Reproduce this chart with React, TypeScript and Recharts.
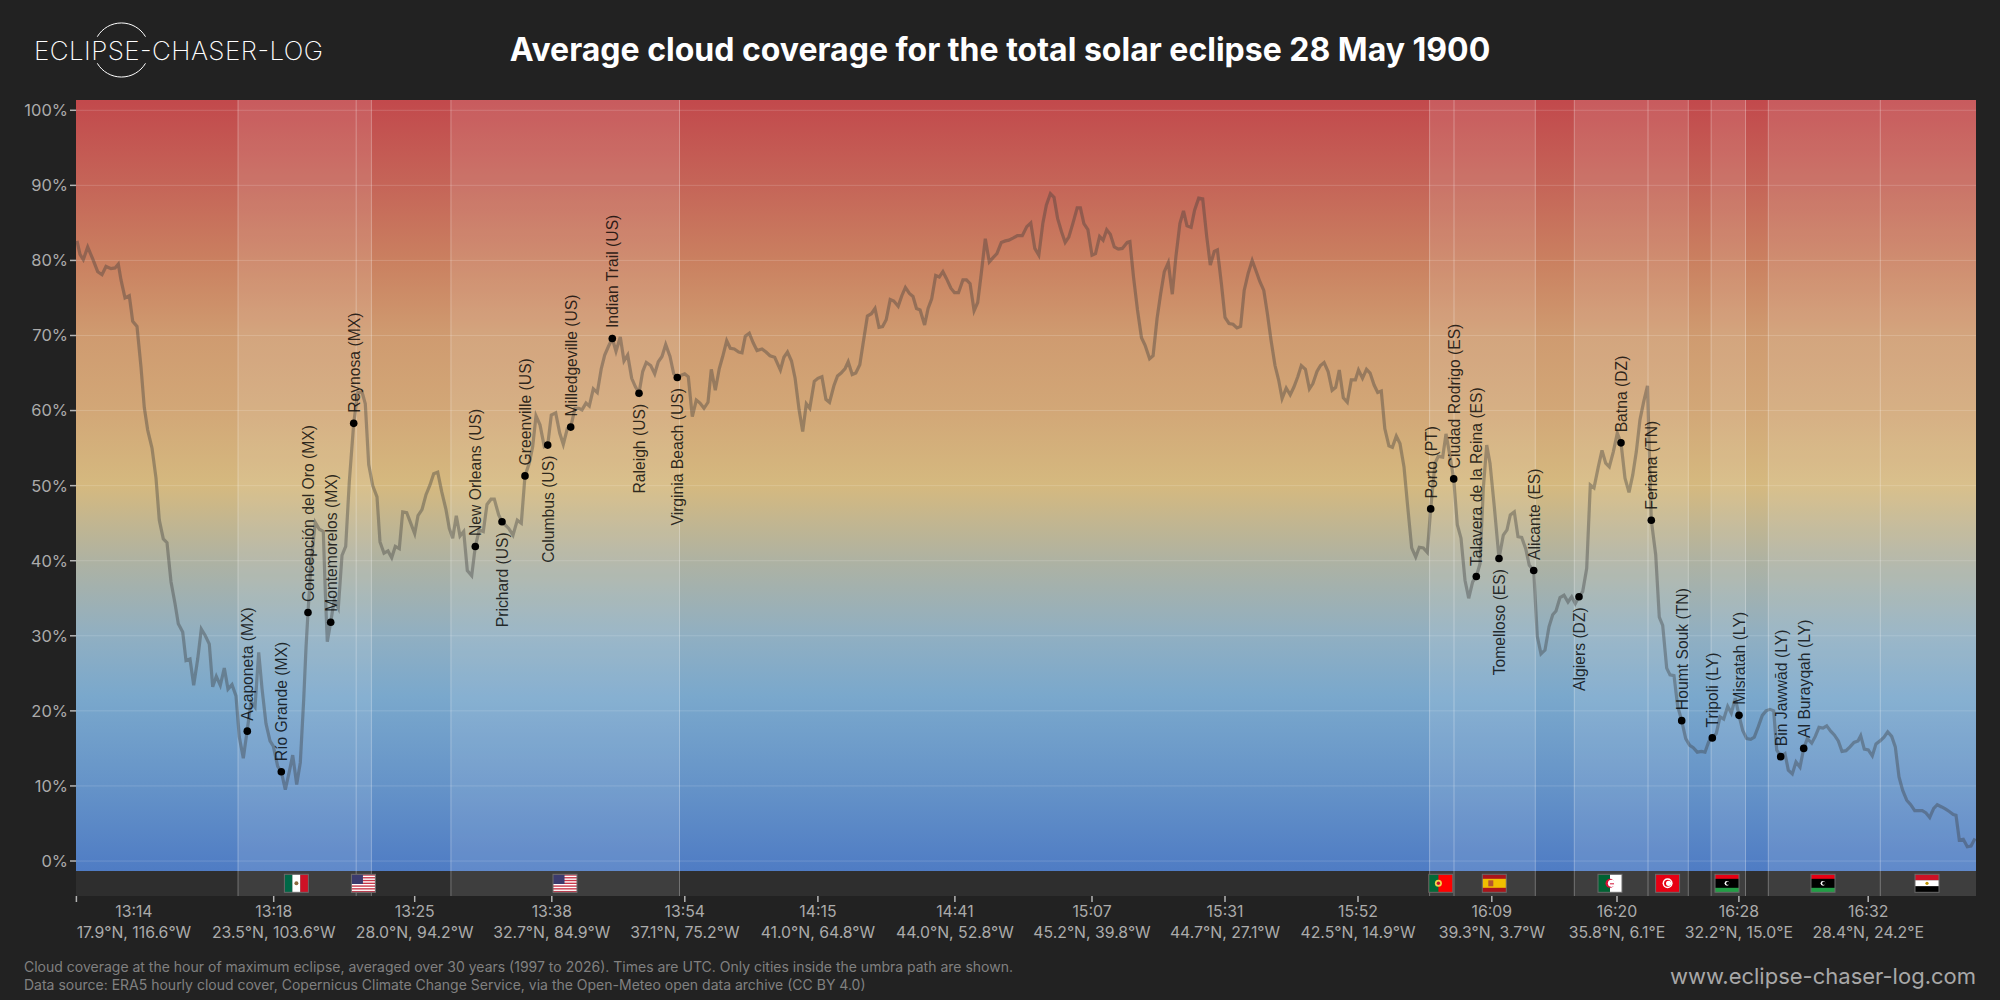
import {
	ComposedChart,
	Line,
	ReferenceArea,
	ReferenceLine,
	Scatter,
	XAxis,
	YAxis,
} from "recharts";

// distance along the eclipse track and the cloud cover read at that spot
const trackPos = [
	1, 4, 7.3, 11.7, 16.7, 21.7, 26, 30, 35, 39, 42.3, 45, 49, 53.3, 56.7, 61, 65, 68.3, 71.7, 76, 80, 83.3, 87.3, 91,
	95, 99, 102.3, 106.7, 110, 114, 117.7, 121.7, 125.3, 129.3, 133.3, 136.7, 140.3, 144.3, 148.3, 152, 156, 160,
	163.3, 167.3, 171.3, 175, 179, 182.7, 186, 190, 194, 197.3, 201.7, 205.3, 209.3, 213.3, 216.7, 220.7, 224.3,
	227.7, 230, 232, 235, 239.3, 243.3, 247.3, 249.3, 251.3, 254.7, 258.3, 262.3, 266, 269.7, 273.3, 277.7, 281.7,
	286, 289.3, 292.7, 296.7, 301, 304, 308, 312, 315.7, 319.3, 323.3, 326.7, 330.7, 334.7, 338.7, 342, 346, 350, 354,
	357.7, 361.7, 365.7, 370, 373.3, 376.7, 380.3, 384, 387.7, 391.3, 395.7, 399.3, 403.3, 407.3, 411, 415, 418.3,
	422.7, 426, 432.7, 437, 441.3, 445.3, 449, 453.3, 456.7, 460, 464, 468.3, 471.7, 475.3, 479.7, 483.7, 487.3,
	491.3, 494.7, 499, 502.7, 506, 510, 513.3, 517.3, 521.3, 525.3, 528.7, 532.3, 536.3, 540, 544.3, 548, 551.7,
	555.7, 559.3, 563, 566.7, 570.3, 574.7, 578.7, 582.3, 586, 589.7, 594, 597.7, 601.3, 605.3, 608.7, 612.3, 616.3,
	620.3, 624, 628, 632, 635.3, 639.3, 643.3, 646.7, 650.7, 654.3, 658.3, 662.7, 666, 669.3, 673.3, 677.3, 681, 686,
	690, 694, 698.7, 704.4, 707.9, 711.5, 715.5, 719.1, 723.1, 726.7, 730.3, 733.8, 738.3, 741.9, 745.9, 749.9, 753.5,
	757.9, 761.5, 765.1, 769.1, 772.2, 776.2, 779.8, 783.8, 787.4, 791.4, 795.4, 799, 803, 806.6, 810.2, 814.2, 817.8,
	822.2, 825.8, 829.4, 833.4, 837, 840.5, 844.1, 848.6, 852.1, 855.7, 859.7, 863.3, 866.9, 870.4, 874.9, 878.5,
	882.5, 886.9, 890.5, 894.1, 898.1, 901.7, 905.3, 909.3, 913.3, 917.3, 920.9, 925.3, 929.4, 932.9, 937.4, 941.4,
	946.3, 950.8, 954.8, 958.8, 962.8, 966.9, 970.4, 974.4, 978, 981.6, 985.6, 989.2, 992.8, 996.8, 1001.2, 1004.4,
	1007.9, 1011.9, 1016, 1019.5, 1023.6, 1027.1, 1030.7, 1034.3, 1038.3, 1042.3, 1046.3, 1051.2, 1053.9, 1057.5,
	1061.5, 1065.5, 1069.1, 1073.6, 1077.1, 1081.1, 1084.7, 1088.3, 1092.3, 1096.3, 1099.9, 1103.9, 1107.5, 1111,
	1115.1, 1118.6, 1122.7, 1126.7, 1130.7, 1134.3, 1138.3, 1141.4, 1145.4, 1149, 1153, 1157, 1161, 1164.6, 1168.2,
	1172.2, 1176.2, 1179.8, 1183.8, 1187.8, 1191.4, 1195, 1199, 1202.6, 1206.1, 1210.2, 1214.2, 1217.8, 1221.8,
	1225.3, 1229.4, 1233.4, 1236.9, 1241, 1244.5, 1248.1, 1252.1, 1256.1, 1259.7, 1263.3, 1267.3, 1271.3, 1275.3,
	1279.4, 1282.5, 1286.5, 1290.5, 1294.1, 1298.1, 1301.7, 1305.3, 1308.8, 1312.9, 1316.4, 1320.3, 1324, 1328,
	1331.7, 1335.7, 1339.7, 1343.3, 1347.3, 1351.3, 1354.7, 1359, 1362.3, 1366.7, 1370, 1374, 1377.7, 1381.3, 1385,
	1389, 1392.7, 1396.7, 1400.3, 1404, 1407.3, 1410.7, 1414, 1418.3, 1423, 1427.3, 1431, 1434.3, 1438.3, 1442, 1445.7,
	1449.7, 1453.3, 1457.7, 1461.3, 1465, 1469, 1473, 1476.7, 1480, 1484, 1488, 1492, 1495.7, 1499.3, 1503, 1506.7,
	1510.7, 1514.3, 1518, 1522.3, 1526, 1529.7, 1533.3, 1537.3, 1541.3, 1545, 1549, 1553, 1556.7, 1560.3, 1564, 1567.7,
	1571.5, 1575.3, 1579.7, 1583.3, 1586.7, 1590.7, 1594, 1598, 1601.7, 1605.7, 1609.7, 1613.7, 1617.3, 1621.3, 1625.3,
	1629, 1632.7, 1636.3, 1640.3, 1644, 1647.7, 1651.7, 1655.3, 1659.3, 1663, 1666.7, 1670.7, 1674.7, 1678.3, 1682.3,
	1686.3, 1690, 1694, 1697.7, 1700.7, 1704.7, 1709, 1712.3, 1716.3, 1720, 1724, 1727.7, 1731.3, 1735.7, 1739.3, 1743,
	1747, 1750.7, 1754.7, 1758.3, 1762.3, 1766, 1770, 1774, 1778, 1782, 1784.7, 1788.3, 1792.3, 1796.3, 1800, 1804,
	1808, 1811.7, 1815.7, 1819.3, 1823, 1826.7, 1830.7, 1834.7, 1838.7, 1842.7, 1846.3, 1850, 1853.7, 1857.7, 1861.3,
	1865.7, 1869.7, 1873.3, 1877.3, 1880, 1883.3, 1887.3, 1891.3, 1895, 1899,
];
const trackCloud = [
	82.6, 80.8, 80.1, 81.8, 80.2, 78.5, 78.1, 79.2, 78.9, 79, 79.5, 77.4, 75, 75.3, 71.9, 71.2, 65.8, 60.4, 57.4, 55, 51,
	45.4, 42.9, 42.4, 37.2, 34.3, 31.6, 30.5, 26.7, 26.9, 23.4, 26.9, 30.9, 30, 28.9, 23.2, 24.6, 23.4, 25.7, 22.9,
	23.5, 22, 16.5, 13.7, 17.5, 21.2, 20.5, 27.8, 23, 18.3, 16, 15.3, 12.6, 11.9, 9.5, 11.9, 14.1, 10.2, 13.1, 21.5,
	28.4, 33.1, 39.7, 45.1, 44.2, 43.9, 35.8, 29.2, 31.8, 34.8, 33.7, 40.7, 41.9, 50.5, 58.3, 62.4, 62.5, 60.9, 52.8,
	50, 48.5, 42.5, 41, 41.3, 40.4, 41.9, 41.6, 46.5, 46.4, 45, 43.6, 46, 46.8, 48.8, 50.1, 51.6, 51.8, 49.2, 46.8, 44.3,
	43, 46, 43.3, 43.9, 38.7, 38, 41.9, 44.1, 43.9, 47.5, 48.2, 48.2, 46.1, 45.2, 44.3, 43.4, 45.4, 45, 51.3, 53, 55.2,
	59.3, 58.1, 55.2, 55.4, 59.4, 59.7, 57, 55.5, 57.6, 57.8, 60.3, 60.3, 60.1, 61, 60.6, 62.9, 62.4, 65.6, 67.4, 68.5,
	69.6, 67.9, 69.8, 66.6, 67.4, 64.3, 63.2, 62.3, 65.2, 66.4, 66, 64.9, 66.5, 67.2, 68.8, 67.2, 64.9, 64.4, 64.7,
	64.9, 64.5, 59.2, 61.4, 61, 60.3, 61.1, 65.5, 62.7, 65.6, 67.2, 69.3, 68.3, 68.2, 67.8, 67.7, 69.9, 70.3, 69, 68,
	68.2, 67.8, 67.3, 67.1, 65.4, 67.1, 67.8, 66.6, 64.3, 60.1, 57.2, 60.9, 60.3, 63.9, 64.3, 64.5, 61.5, 61.1, 63.3,
	64.6, 65, 65.6, 66.5, 64.8, 65, 66.1, 69.2, 72.6, 72.9, 73.6, 71.1, 71.2, 72.1, 74.8, 74.6, 73.9, 75.3, 76.4, 75.6,
	75.2, 73.6, 73.4, 71.4, 73.6, 74.9, 78, 77.8, 78.5, 77.6, 76.3, 75.7, 75.7, 77.4, 77.4, 76.9, 73.3, 74.4, 78.3,
	82.9, 79.8, 80.4, 80.9, 82.4, 82.6, 82.7, 83, 83.3, 83.3, 84.5, 85, 81.6, 80.7, 85, 87.4, 88.9, 88.4, 85.6, 83.8,
	82.4, 83.1, 84.9, 87, 87, 84.9, 84.1, 80.7, 80.9, 83.2, 82.7, 84.1, 83.5, 81.8, 81.5, 81.6, 82.4, 82.5, 77.8, 73.4,
	69.7, 68.7, 66.9, 67.3, 72.3, 75.6, 78.5, 79.7, 75.5, 80.5, 84.9, 86.6, 84.6, 84.4, 86.7, 88.3, 88.2, 83.2, 79.4,
	81.2, 81.4, 76.9, 72.4, 71.6, 71.5, 71, 71.2, 76, 78.3, 80, 78.7, 77.2, 76, 72.9, 69.4, 66, 64.1, 61.6, 63, 62.1,
	63.1, 64.5, 66, 65.5, 62.9, 63.6, 65.2, 66, 66.4, 65.2, 62.7, 63.1, 65.4, 61.7, 61.1, 64.1, 64.1, 65.4, 64.3, 65.5,
	65, 63.4, 62.4, 62.6, 57.6, 55.3, 55.1, 56.6, 55.6, 52.5, 47.2, 41.7, 40.5, 41.8, 41.7, 41.1, 46.9, 53, 53.9, 53.8,
	56.9, 53.9, 50.9, 44.8, 43, 37.4, 35, 37.2, 37.9, 39.6, 49.6, 55.4, 53, 47.2, 40.3, 43.4, 44.1, 46.1, 46.5, 43.2,
	43.1, 41.6, 39.4, 38.7, 29.9, 27.6, 28.1, 31.2, 32.8, 33.3, 35.1, 35.4, 34.5, 35.2, 34.3, 35.2, 35.9, 39, 50.1,
	49.7, 52.5, 54.7, 53, 52.5, 54.5, 57, 55.7, 51, 49.1, 51.4, 54.5, 58.8, 61.2, 63.3, 45.4, 40.8, 32.5, 31.4, 25.7,
	24.8, 24.7, 20.6, 18.7, 16.3, 15.4, 15.1, 14.5, 14.6, 14.5, 15.9, 16.4, 17, 19.2, 18.9, 20.6, 19.7, 21.7, 19.4,
	17.4, 16.3, 16.2, 16.5, 17.9, 19.4, 20, 20.2, 20, 14.8, 13.9, 14.3, 12.1, 11.6, 13.2, 12.5, 15, 16.3, 15.7, 16.6,
	17.8, 17.7, 18, 17.3, 16.8, 16, 14.6, 14.7, 15.2, 15.8, 16, 16.7, 14.9, 14.8, 14, 15.6, 16, 16.5, 17.2, 16.6, 15.2,
	11.2, 9.4, 8.1, 7.5, 6.7, 6.7, 6.7, 6.4, 5.8, 7, 7.5, 7.2, 6.9, 6.6, 6.2, 6.1, 2.8, 2.9, 1.9, 2, 3,
];

const cityNames = [
	"Acaponeta (MX)", "Río Grande (MX)", "Concepción del Oro (MX)", "Montemorelos (MX)", "Reynosa (MX)",
	"New Orleans (US)", "Prichard (US)", "Greenville (US)", "Columbus (US)", "Milledgeville (US)", "Indian Trail (US)",
	"Raleigh (US)", "Virginia Beach (US)", "Porto (PT)", "Ciudad Rodrigo (ES)", "Talavera de la Reina (ES)",
	"Tomelloso (ES)", "Alicante (ES)", "Algiers (DZ)", "Batna (DZ)", "Feriana (TN)", "Houmt Souk (TN)", "Tripoli (LY)",
	"Misratah (LY)", "Bin Jawwād (LY)", "Al Burayqah (LY)",
];
const cityPos = [
	171.3, 205.3, 232, 254.7, 277.7, 399.3, 426, 449, 471.7, 494.7, 536.3, 563, 601.3, 1354.7, 1377.7, 1400.3, 1423,
	1457.7, 1503, 1545, 1575.3, 1605.7, 1636.3, 1663, 1704.7, 1727.7,
];
const cityCloud = [
	17.3, 11.9, 33.1, 31.8, 58.3, 41.9, 45.2, 51.3, 55.4, 57.8, 69.6, 62.3, 64.4, 46.9, 50.9, 37.9, 40.3, 38.7, 35.2,
	55.7, 45.4, 18.7, 16.4, 19.4, 13.9, 15,
];
const citiesLabelledBelow = [
	"Prichard (US)", "Columbus (US)", "Raleigh (US)", "Virginia Beach (US)", "Tomelloso (ES)", "Algiers (DZ)",
];

const bandStarts = [162, 280.2, 374.9, 1353.6, 1378, 1498.3, 1572, 1635.1, 1692.3, 1804.3];
const bandEnds = [280.2, 295.4, 603.5, 1378, 1459.3, 1572, 1612.3, 1669.5, 1804.3, 1900];
const flagCodes = ["MX", "US", "US", "PT", "ES", "DZ", "TN", "LY", "LY", "EG"];
const flagPos = [220.4, 287.4, 489, 1364.8, 1418.3, 1534, 1591.6, 1651, 1747, 1851];

const xTickPos = [0.4, 197.7, 338.7, 475.8, 608.8, 741.9, 878.9, 1016, 1149, 1282, 1415.8, 1541, 1662.9, 1792.2];
const xTickTimes = [
	"13:14", "13:18", "13:25", "13:38", "13:54", "14:15", "14:41", "15:07", "15:31", "15:52", "16:09", "16:20", "16:28",
	"16:32",
];
const xTickCoords = [
	"17.9°N, 116.6°W", "23.5°N, 103.6°W", "28.0°N, 94.2°W", "32.7°N, 84.9°W", "37.1°N, 75.2°W", "41.0°N, 64.8°W",
	"44.0°N, 52.8°W", "45.2°N, 39.8°W", "44.7°N, 27.1°W", "42.5°N, 14.9°W", "39.3°N, 3.7°W", "35.8°N, 6.1°E",
	"32.2°N, 15.0°E", "28.4°N, 24.2°E",
];
const yTicks = [0, 10, 20, 30, 40, 50, 60, 70, 80, 90, 100];

const gradientStops: [number, string][] = [
	[-1.33, "#4f7cc4"],
	[10, "#6593c8"],
	[22, "#7aa8cc"],
	[30, "#90afc2"],
	[40, "#aeb2a2"],
	[50, "#d5b97f"],
	[60, "#d2a777"],
	[70, "#cf9b70"],
	[80, "#ca8060"],
	[90, "#c56558"],
	[101.37, "#c2494c"],
];

const FONT = "Inter, 'Noto Sans', sans-serif";
const Y_MIN = -4.66;
const Y_MAX = 101.37;
const PLOT_MIN = -1.33;

const trackData = trackPos.map((pos, i) => ({ pos, cloud: trackCloud[i] }));
const cityData = cityNames.map((name, i) => ({ name, pos: cityPos[i], cloud: cityCloud[i] }));
const flagData = flagCodes.map((code, i) => ({ code, pos: flagPos[i], cloud: -2.97 }));

function XTick({ x, y, payload, index }: any) {
	const first = index === 0;
	return (
		<g fontFamily={FONT} fill="#ababab" fontSize={15.8} textAnchor="middle">
			<text x={first ? x + 57.5 : x} y={y + 13}>
				{xTickTimes[xTickPos.indexOf(payload.value)]}
			</text>
			<text x={first ? x + 57.5 : x} y={y + 34}>
				{xTickCoords[xTickPos.indexOf(payload.value)]}
			</text>
		</g>
	);
}

function CityMark({ cx, cy, payload }: any) {
	const below = citiesLabelledBelow.includes(payload.name);
	const ty = below ? cy + 10.5 : cy - 10.5;
	return (
		<g>
			<circle cx={cx} cy={cy} r={3.8} fill="#000" />
			<text
				transform={`translate(${cx + 6},${ty}) rotate(-90)`}
				textAnchor={below ? "end" : "start"}
				fontFamily="'Liberation Sans', Arial, sans-serif"
				fontSize={15.7}
				fill="#000"
				fillOpacity={0.8}
			>
				{payload.name}
			</text>
		</g>
	);
}

function FlagMark({ cx, cy, payload }: any) {
	const w = 24;
	const h = 18;
	const x = cx - w / 2;
	const y = cy - h / 2;
	const code = payload.code;
	let art = null;
	if (code === "MX") {
		art = (
			<>
				<rect x={x} y={y} width={w / 3} height={h} fill="#006847" />
				<rect x={x + w / 3} y={y} width={w / 3} height={h} fill="#fff" />
				<rect x={x + (2 * w) / 3} y={y} width={w / 3} height={h} fill="#ce1126" />
				<circle cx={cx} cy={cy} r={2} fill="#8c6a3f" />
			</>
		);
	} else if (code === "US") {
		art = (
			<>
				<rect x={x} y={y} width={w} height={h} fill="#fff" />
				{[0, 2, 4, 6, 8, 10, 12].map((s) => (
					<rect key={s} x={x} y={y + (s * h) / 13} width={w} height={h / 13} fill="#c8374a" />
				))}
				<rect x={x} y={y} width={w * 0.48} height={(h * 7) / 13} fill="#3c3b6e" />
			</>
		);
	} else if (code === "PT") {
		art = (
			<>
				<rect x={x} y={y} width={w} height={h} fill="#ff0000" />
				<rect x={x} y={y} width={w * 0.4} height={h} fill="#046a38" />
				<circle cx={x + w * 0.4} cy={cy} r={3.5} fill="#f0d64b" />
				<circle cx={x + w * 0.4} cy={cy} r={1.7} fill="#c8102e" />
			</>
		);
	} else if (code === "ES") {
		art = (
			<>
				<rect x={x} y={y} width={w} height={h} fill="#aa151b" />
				<rect x={x} y={y + h / 4} width={w} height={h / 2} fill="#f1bf00" />
				<rect x={x + 6} y={cy - 3} width={5} height={6} fill="#b5552f" />
			</>
		);
	} else if (code === "DZ") {
		art = (
			<>
				<rect x={x} y={y} width={w / 2} height={h} fill="#006233" />
				<rect x={cx} y={y} width={w / 2} height={h} fill="#fff" />
				<circle cx={cx} cy={cy} r={4.5} fill="#d21034" />
				<circle cx={cx + 1.5} cy={cy} r={3.6} fill="#fff" />
				<path d={`M${cx},${cy}h4v1h-4z`} fill="#d21034" />
			</>
		);
	} else if (code === "TN") {
		art = (
			<>
				<rect x={x} y={y} width={w} height={h} fill="#e70013" />
				<circle cx={cx} cy={cy} r={5} fill="#fff" />
				<circle cx={cx} cy={cy} r={3.5} fill="#e70013" />
				<circle cx={cx + 1} cy={cy} r={2.6} fill="#fff" />
			</>
		);
	} else if (code === "LY") {
		art = (
			<>
				<rect x={x} y={y} width={w} height={h} fill="#000" />
				<rect x={x} y={y} width={w} height={h / 4} fill="#e70013" />
				<rect x={x} y={y + (3 * h) / 4} width={w} height={h / 4} fill="#239e46" />
				<circle cx={cx} cy={cy} r={2.4} fill="#fff" />
				<circle cx={cx + 1} cy={cy} r={1.8} fill="#000" />
			</>
		);
	} else if (code === "EG") {
		art = (
			<>
				<rect x={x} y={y} width={w} height={h / 3} fill="#ce1126" />
				<rect x={x} y={y + h / 3} width={w} height={h / 3} fill="#fff" />
				<rect x={x} y={y + (2 * h) / 3} width={w} height={h / 3} fill="#000" />
				<circle cx={cx} cy={cy} r={1.6} fill="#c09300" />
			</>
		);
	}
	return (
		<g>
			{art}
			<rect x={x} y={y} width={w} height={h} fill="none" stroke="#6a6a6a" strokeWidth={1} />
		</g>
	);
}

export default function App() {
	return (
		<div
			style={{
				position: "absolute",
				left: 0,
				top: 0,
				width: 2000,
				height: 1000,
				background: "#222222",
				overflow: "hidden",
				fontFamily: FONT,
			}}
		>
			<svg width={340} height={100} style={{ position: "absolute", left: 0, top: 0 }}>
				<path d="M97.3 36.7 A28 28 0 0 1 145.5 36.7" fill="none" stroke="#fff" strokeWidth={1} />
				<path d="M97.3 63.3 A28 28 0 0 0 145.5 63.3" fill="none" stroke="#fff" strokeWidth={1} />
				<text x={34} y={59.5} fill="#fff" fontFamily="Inter" fontWeight={200} fontSize={26} textLength={289}>
					ECLIPSE-CHASER-LOG
				</text>
			</svg>
			<div
				style={{
					position: "absolute",
					left: 0,
					width: 2000,
					top: 30,
					textAlign: "center",
					color: "#fff",
					fontSize: 32,
					fontWeight: 700,
					lineHeight: "40px",
				}}
			>
				Average cloud coverage for the total solar eclipse 28 May 1900
			</div>
			<ComposedChart
				width={2000}
				height={1000}
				margin={{ top: 100, right: 24, bottom: 0, left: 0 }}
				style={{ position: "absolute", left: 0, top: 0 }}
			>
				<defs>
					<linearGradient id="cloudScale" x1="0" y1="1" x2="0" y2="0">
						{gradientStops.map(([v, c]) => (
							<stop key={v} offset={(v - PLOT_MIN) / (Y_MAX - PLOT_MIN)} stopColor={c} />
						))}
					</linearGradient>
				</defs>
				<XAxis
					type="number"
					dataKey="pos"
					domain={[0, 1900]}
					ticks={xTickPos}
					interval={0}
					height={104}
					axisLine={false}
					tickSize={6}
					tickLine={{ stroke: "#b4b4b4", strokeWidth: 1.5 }}
					tick={<XTick />}
				/>
				<YAxis
					type="number"
					domain={[Y_MIN, Y_MAX]}
					ticks={yTicks}
					interval={0}
					width={76}
					axisLine={false}
					tickSize={6}
					tickLine={{ stroke: "#b4b4b4", strokeWidth: 1.5 }}
					tickFormatter={(v: number) => `${v}%`}
					tick={{ fill: "#ababab", fontSize: 16.5, fontFamily: FONT }}
				/>
				<ReferenceArea x1={0} x2={1900} y1={PLOT_MIN} y2={Y_MAX} fill="url(#cloudScale)" fillOpacity={1} stroke="none" />
				<ReferenceArea x1={0} x2={1900} y1={Y_MIN} y2={PLOT_MIN} fill="#2e2e2e" fillOpacity={1} stroke="none" />
				{bandStarts.map((start, i) => (
					<ReferenceArea
						key={`band${i}`}
						x1={start}
						x2={bandEnds[i]}
						y1={PLOT_MIN}
						y2={Y_MAX}
						fill="#fff"
						fillOpacity={0.1}
						stroke="none"
					/>
				))}
				{bandStarts.map((start, i) => (
					<ReferenceArea
						key={`strip${i}`}
						x1={start}
						x2={bandEnds[i]}
						y1={Y_MIN}
						y2={PLOT_MIN}
						fill="#fff"
						fillOpacity={0.08}
						stroke="none"
					/>
				))}
				{[...new Set([...bandStarts, ...bandEnds])]
					.filter((edge) => edge < 1900)
					.map((edge) => (
						<ReferenceLine key={`edge${edge}`} x={edge} stroke="#fff" strokeOpacity={0.3} strokeWidth={1} />
					))}
				{yTicks.map((t) => (
					<ReferenceLine key={`grid${t}`} y={t} stroke="#fff" strokeOpacity={0.16} strokeWidth={1} />
				))}
				<Line
					data={trackData}
					dataKey="cloud"
					type="linear"
					stroke="#3a3a3a"
					strokeOpacity={0.38}
					strokeWidth={3.2}
					dot={false}
					activeDot={false}
					isAnimationActive={false}
				/>
				<Scatter data={flagData} dataKey="cloud" shape={<FlagMark />} isAnimationActive={false} />
				<Scatter data={cityData} dataKey="cloud" shape={<CityMark />} isAnimationActive={false} />
			</ComposedChart>
			<div
				style={{
					position: "absolute",
					left: 24,
					top: 958,
					color: "#808080",
					fontSize: 14,
					lineHeight: "18px",
					whiteSpace: "nowrap",
				}}
			>
				Cloud coverage at the hour of maximum eclipse, averaged over 30 years (1997 to 2026). Times are UTC. Only cities
				inside the umbra path are shown.
				<br />
				Data source: ERA5 hourly cloud cover, Copernicus Climate Change Service, via the Open-Meteo open data archive (CC
				BY 4.0)
			</div>
			<div
				style={{
					position: "absolute",
					right: 24,
					top: 961,
					color: "#a8a8a8",
					fontSize: 22,
					lineHeight: "30px",
					whiteSpace: "nowrap",
				}}
			>
				www.eclipse-chaser-log.com
			</div>
		</div>
	);
}
